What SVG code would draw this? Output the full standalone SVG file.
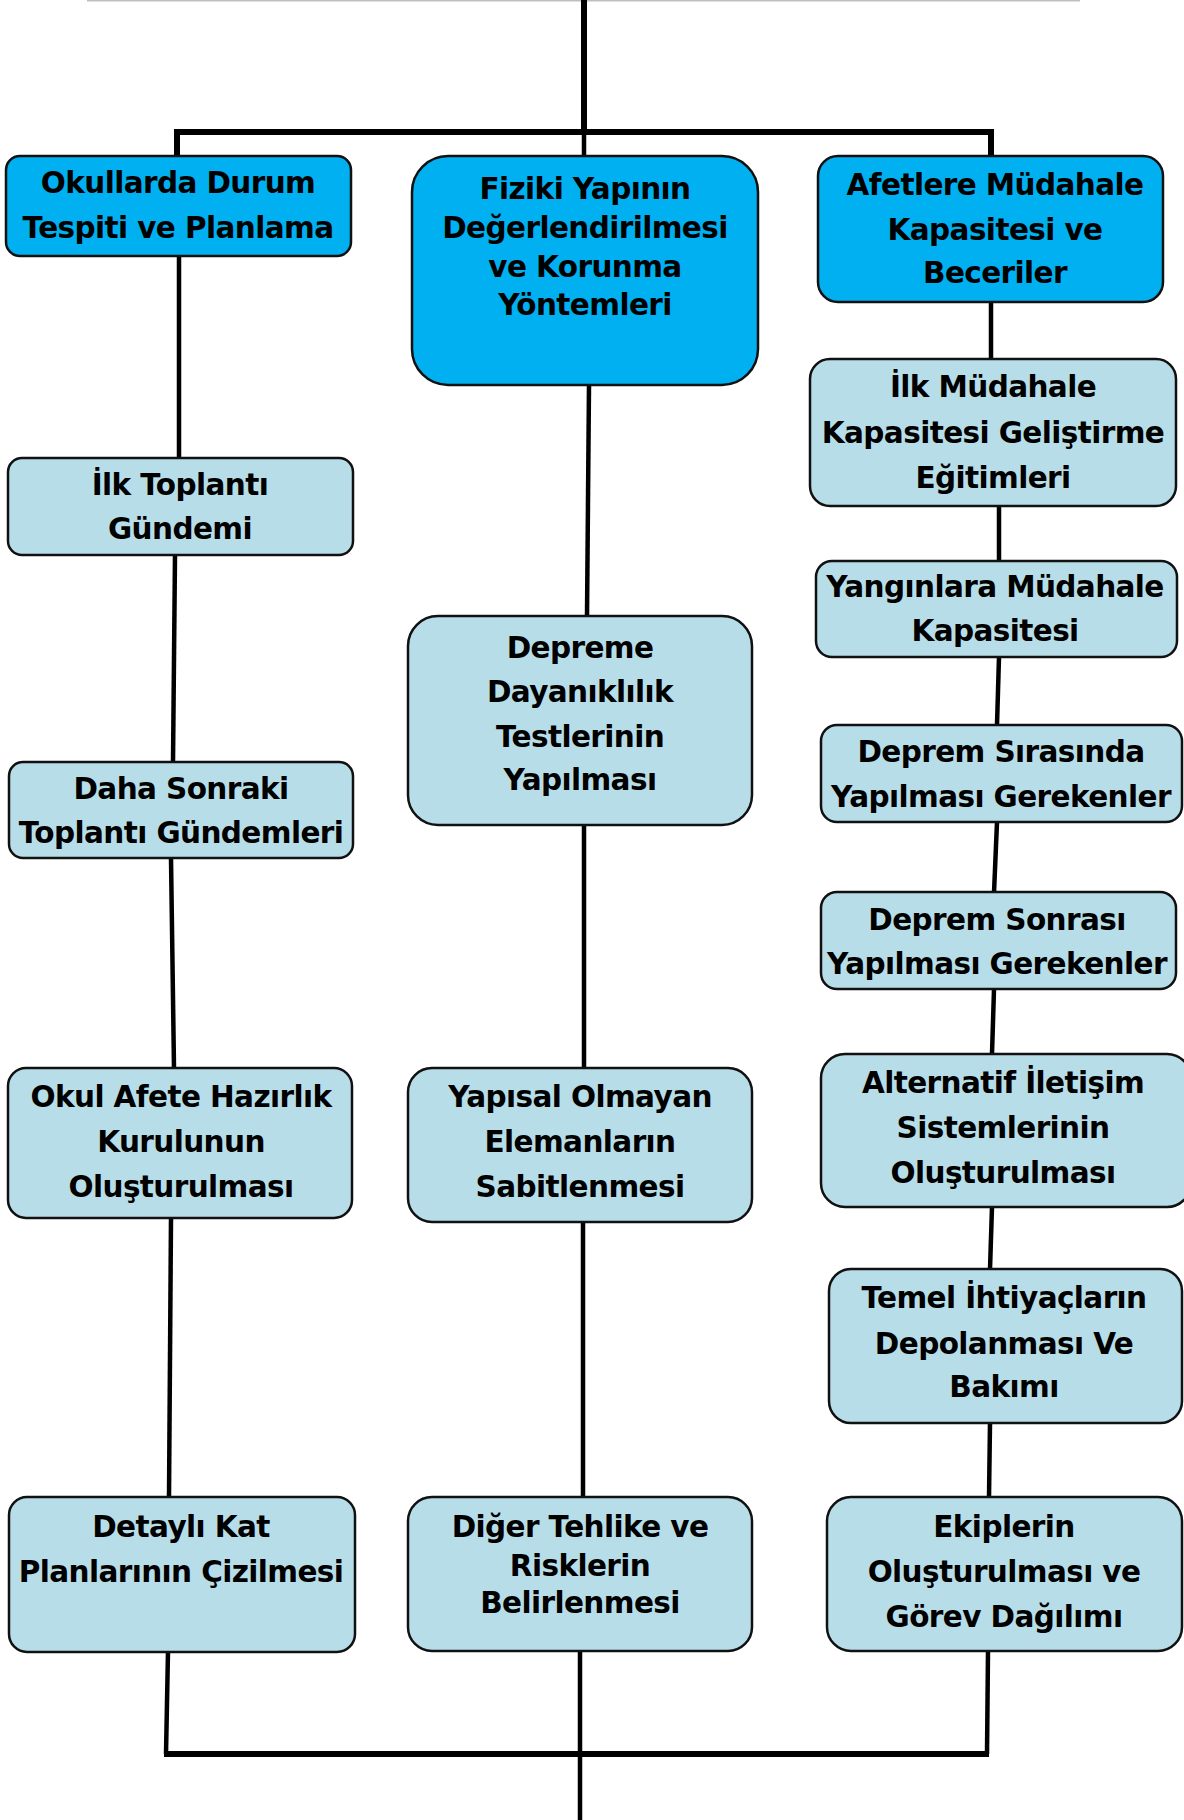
<svg xmlns="http://www.w3.org/2000/svg" width="1184" height="1820" viewBox="0 0 1184 1820">
<style>
.hd{fill:#00B0F0;stroke:#111;stroke-width:2.5}
.bx{fill:#B7DEE8;stroke:#111;stroke-width:2.5}
.t{font-family:"DejaVu Sans","Liberation Sans",sans-serif;font-weight:bold;font-size:29.5px;letter-spacing:-0.6px;fill:#000;text-anchor:middle}
.c{stroke:#000;stroke-width:4.5;fill:none}
.k{stroke:#000;stroke-width:6;fill:none}
</style>
<rect width="1184" height="1820" fill="#fff"/>
<g id="connectors">
<line x1="87" y1="0.5" x2="1080" y2="0.5" stroke="#BFBFBF" stroke-width="2"/>
<line class="k" x1="584" y1="0" x2="584" y2="132"/>
<polyline class="k" points="177,156 177,132 991,132 991,156"/>
<line class="c" x1="584" y1="132" x2="584" y2="156"/>
<line class="c" x1="179" y1="256" x2="179" y2="458"/>
<line class="c" x1="175" y1="555" x2="173" y2="762"/>
<line class="c" x1="171" y1="858" x2="174" y2="1068"/>
<line class="c" x1="171" y1="1218" x2="169" y2="1497"/>
<line class="c" x1="589" y1="385" x2="587" y2="616"/>
<line class="c" x1="584" y1="825" x2="584" y2="1068"/>
<line class="c" x1="583" y1="1222" x2="583" y2="1497"/>
<line class="c" x1="991" y1="302" x2="991" y2="359"/>
<line class="c" x1="999" y1="506" x2="999" y2="561"/>
<line class="c" x1="999" y1="657" x2="997" y2="725"/>
<line class="c" x1="997" y1="822" x2="994" y2="893"/>
<line class="c" x1="994" y1="989" x2="992" y2="1054"/>
<line class="c" x1="992" y1="1207" x2="990" y2="1269"/>
<line class="c" x1="990" y1="1423" x2="989" y2="1497"/>
<polyline class="c" points="168,1651 166,1754"/>
<polyline class="c" points="988,1651 987,1754"/>
<line class="k" x1="164" y1="1754" x2="989" y2="1754"/>
<line class="c" x1="580" y1="1651" x2="580" y2="1820"/>
</g>
<g id="n1"><rect class="hd" x="6" y="156" width="345" height="100" rx="14"/>
<text class="t" x="178" y="193">Okullarda Durum</text><text class="t" x="178" y="238">Tespiti ve Planlama</text></g>
<g id="n2"><rect class="bx" x="8" y="458" width="345" height="97" rx="14"/>
<text class="t" x="180" y="495">İlk Toplantı</text><text class="t" x="180" y="539">Gündemi</text></g>
<g id="n3"><rect class="bx" x="9" y="762" width="344" height="96" rx="14"/>
<text class="t" x="181" y="799">Daha Sonraki</text><text class="t" x="181" y="843">Toplantı Gündemleri</text></g>
<g id="n4"><rect class="bx" x="8" y="1068" width="344" height="150" rx="18"/>
<text class="t" x="181" y="1107">Okul Afete Hazırlık</text><text class="t" x="181" y="1152">Kurulunun</text><text class="t" x="181" y="1197">Oluşturulması</text></g>
<g id="n5"><rect class="bx" x="9" y="1497" width="346" height="155" rx="18"/>
<text class="t" x="181" y="1537">Detaylı Kat</text><text class="t" x="181" y="1582">Planlarının Çizilmesi</text></g>
<g id="m1"><rect class="hd" x="412" y="156" width="346" height="229" rx="36"/>
<text class="t" x="585" y="199">Fiziki Yapının</text><text class="t" x="585" y="238">Değerlendirilmesi</text><text class="t" x="585" y="277">ve Korunma</text><text class="t" x="585" y="315">Yöntemleri</text></g>
<g id="m2"><rect class="bx" x="408" y="616" width="344" height="209" rx="30"/>
<text class="t" x="580" y="658">Depreme</text><text class="t" x="580" y="702">Dayanıklılık</text><text class="t" x="580" y="747">Testlerinin</text><text class="t" x="580" y="790">Yapılması</text></g>
<g id="m3"><rect class="bx" x="408" y="1068" width="344" height="154" rx="24"/>
<text class="t" x="580" y="1107">Yapısal Olmayan</text><text class="t" x="580" y="1152">Elemanların</text><text class="t" x="580" y="1197">Sabitlenmesi</text></g>
<g id="m4"><rect class="bx" x="408" y="1497" width="344" height="154" rx="24"/>
<text class="t" x="580" y="1537">Diğer Tehlike ve</text><text class="t" x="580" y="1576">Risklerin</text><text class="t" x="580" y="1613">Belirlenmesi</text></g>
<g id="r1"><rect class="hd" x="818" y="156" width="345" height="146" rx="20"/>
<text class="t" x="995" y="195">Afetlere Müdahale</text><text class="t" x="995" y="240">Kapasitesi ve</text><text class="t" x="995" y="283">Beceriler</text></g>
<g id="r2"><rect class="bx" x="810" y="359" width="366" height="147" rx="20"/>
<text class="t" x="993" y="397">İlk Müdahale</text><text class="t" x="993" y="443">Kapasitesi Geliştirme</text><text class="t" x="993" y="488">Eğitimleri</text></g>
<g id="r3"><rect class="bx" x="816" y="561" width="361" height="96" rx="16"/>
<text class="t" x="995" y="597">Yangınlara Müdahale</text><text class="t" x="995" y="641">Kapasitesi</text></g>
<g id="r4"><rect class="bx" x="821" y="725" width="361" height="97" rx="16"/>
<text class="t" x="1001" y="762">Deprem Sırasında</text><text class="t" x="1001" y="807">Yapılması Gerekenler</text></g>
<g id="r5"><rect class="bx" x="821" y="892" width="355" height="97" rx="16"/>
<text class="t" x="997" y="930">Deprem Sonrası</text><text class="t" x="997" y="974">Yapılması Gerekenler</text></g>
<g id="r6"><rect class="bx" x="821" y="1054" width="370" height="153" rx="24"/>
<text class="t" x="1003" y="1093">Alternatif İletişim</text><text class="t" x="1003" y="1138">Sistemlerinin</text><text class="t" x="1003" y="1183">Oluşturulması</text></g>
<g id="r7"><rect class="bx" x="829" y="1269" width="353" height="154" rx="22"/>
<text class="t" x="1004" y="1308">Temel İhtiyaçların</text><text class="t" x="1004" y="1354">Depolanması Ve</text><text class="t" x="1004" y="1397">Bakımı</text></g>
<g id="r8"><rect class="bx" x="827" y="1497" width="355" height="154" rx="24"/>
<text class="t" x="1004" y="1537">Ekiplerin</text><text class="t" x="1004" y="1582">Oluşturulması ve</text><text class="t" x="1004" y="1627">Görev Dağılımı</text></g>
</svg>
